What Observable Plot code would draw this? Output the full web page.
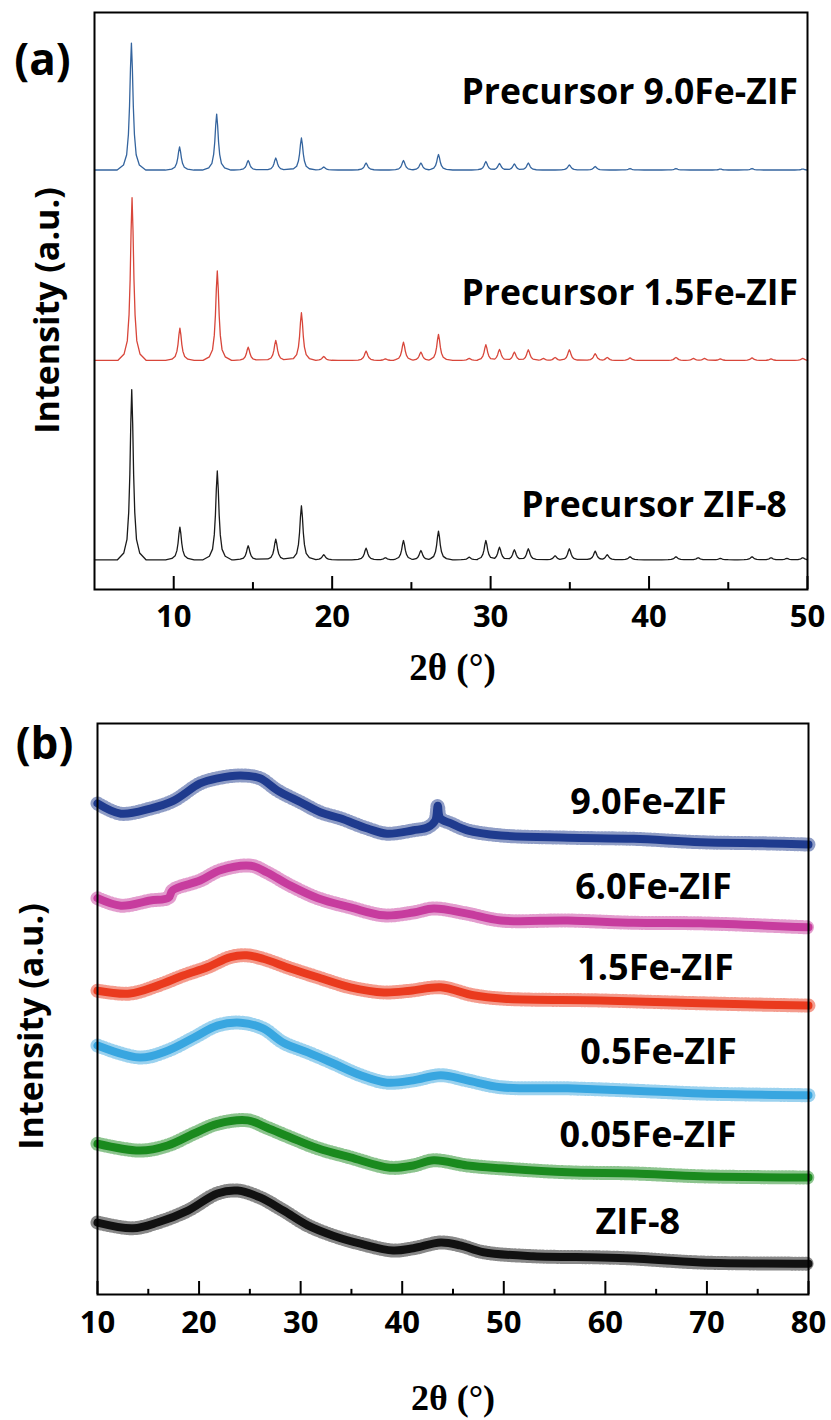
<!DOCTYPE html>
<html><head><meta charset="utf-8">
<script src="https://cdn.jsdelivr.net/npm/d3@7"></script>
<script src="https://cdn.jsdelivr.net/npm/@observablehq/plot@0.6"></script>
<style>
html,body{margin:0;padding:0;background:#fff;}
body{width:831px;height:1420px;position:relative;overflow:hidden;}
#pa,#pb{position:absolute;left:0;}
#pa{top:0;} #pb{top:700px;}
</style></head><body><div id="pa"></div><div id="pb"></div>
<script>
// ---------- Panel (a): precursor XRD patterns ----------
const precursorNames = ["Precursor ZIF-8", "Precursor 1.5Fe-ZIF", "Precursor 9.0Fe-ZIF"];
const precursorColors = ["#1a1a1a", "#d8463a", "#34649e"];
const precursorOffsets = [5.15, 39.7, 72.7];

const zif8PeakPos = [7.35,10.39,12.75,14.7,16.44,18.06,19.47,22.14,23.36,24.5,25.6,26.71,28.65,29.7,30.56,31.5,32.38,34.07,34.97,36.6,37.36,38.8,41.7,43.1,44.5,46.5,47.7,48.7,49.7];
const zif8PeakInt = [29.5,5.65,15.4,2.43,3.57,9.36,0.87,2.01,0.35,3.34,1.61,4.96,0.45,3.34,2.18,1.73,1.91,0.69,1.91,1.49,0.87,0.52,0.52,0.35,0.26,0.52,0.35,0.26,0.35];

const fe15PeakPos = [7.37,10.39,12.75,14.7,16.44,18.06,19.47,22.14,23.36,24.5,25.6,26.71,28.65,29.7,30.56,31.5,32.38,33.33,34.07,34.97,36.6,37.36,38.8,41.7,42.8,43.5,44.5,46.5,47.7,49.7];
const fe15PeakInt = [28.2,5.6,15.5,2.3,3.47,8.27,0.69,1.61,0.26,3.17,1.44,4.5,0.35,2.72,1.91,1.44,1.85,0.35,0.52,1.85,1.16,0.52,0.43,0.52,0.35,0.35,0.26,0.43,0.26,0.35];

const fe90PeakPos = [7.33,10.37,12.71,14.7,16.44,18.06,19.47,22.14,24.5,25.6,26.71,29.7,30.56,31.5,32.38,34.97,36.6,38.8,41.7,44.5,46.5,49.7];
const fe90PeakInt = [22.0,4.0,9.7,1.65,2.08,5.55,0.52,1.21,1.65,1.21,2.69,1.47,1.13,1.04,1.21,0.87,0.61,0.26,0.26,0.17,0.26,0.17];

// measured line shape of a single reflection (offset in degrees, fraction of peak height)
const profileDx = [-0.9,-0.5,-0.3,-0.19,-0.12,-0.06,0,0.06,0.12,0.19,0.3,0.5,0.9];
const profileFrac = [0,0.04,0.12,0.28,0.5,0.8,1,0.8,0.5,0.28,0.12,0.04,0];

const xTicksA = [10,20,30,40,50];
const xMinorA = [15,25,35,45];

// ---------- Panel (b): carbonised samples ----------
const sampleNames = ["ZIF-8","0.05Fe-ZIF","0.5Fe-ZIF","1.5Fe-ZIF","6.0Fe-ZIF","9.0Fe-ZIF"];
const sampleColors = ["#111111","#1a8a1e","#38a6e0","#ea3a1e","#c73c9e","#1f3b8e"];

const zif8X = [10,13.5,15.9,18.9,21.8,23.8,26,28.3,30.7,33.2,35.9,39.1,41.1,43.8,45.7,48,52.9,59.5,62.8,69.4,80];
const zif8Y = [12.6,11.6,12.6,14.7,17.7,18.2,17.0,14.7,12.1,10.3,8.9,7.7,8.1,9.1,8.6,7.4,6.7,6.5,6.3,5.6,5.4];

const fe005X = [10,14.2,16.9,19.5,21.8,24.8,26.7,29,31.7,34.9,38.8,41.1,43.1,46.4,49.7,56.3,62.8,69.4,80];
const fe005Y = [26.4,25.2,26.1,28.2,29.9,30.5,29.2,27.5,25.6,24.0,22.2,22.6,23.5,22.6,22.1,21.4,21.2,20.7,20.5];

const fe05X = [10,14.2,16.9,19.5,21.8,24.1,26.3,28.3,30.7,33.2,35.9,38.5,41.1,43.8,46.4,49.7,56.3,62.8,69.4,80];
const fe05Y = [43.6,41.5,42.7,45.0,47.1,47.6,46.6,44.1,42.4,40.5,38.4,37.1,37.5,38.4,37.5,36.3,36.1,35.7,35.2,34.9];

const fe15X = [10,13.2,15.9,18.5,20.8,23.1,24.7,26.3,29,31.6,34.9,38.2,40.8,43.8,47,50,59.5,69.4,80];
const fe15Y = [53.2,52.7,54.1,55.9,57.3,59.1,59.4,58.8,57.1,55.6,53.8,52.9,53.2,53.8,52.4,51.8,51.5,51.0,50.6];

const fe60X = [10,12.3,15.2,17.0,17.4,20.1,22.1,25.1,26.7,29,31.7,34.9,38.2,41.1,43.1,46.4,49.7,56.3,62.8,69.4,80];
const fe60Y = [69.4,68.1,69.0,69.5,70.8,72.5,74.3,75.1,73.9,71.6,69.4,67.8,66.4,66.9,67.6,66.7,65.5,65.5,65.1,65.0,64.3];

const fe90X = [10,12.3,15.2,17.5,20.1,21.8,24.1,26,27.7,30,32,33.9,36.6,38.5,41.1,42.5,43.25,43.5,43.75,44.8,46.4,49.7,56.3,62.8,69.4,76,80];
const fe90Y = [86.0,84.2,85.1,86.5,89.5,90.4,90.9,90.4,88.3,86.2,84.4,83.4,81.6,80.7,81.3,81.8,83.0,85.6,83.4,82.5,81.3,80.4,80.0,79.8,79.2,79.0,78.8];

const xTicksB = [10,20,30,40,50,60,70,80];
const xMinorB = [15,25,35,45,55,65,75];

// ---------- build tables ----------
function patternRows(name, offset, pos, inten, xmin, xmax) {
  const rows = [{s: name, x: xmin, y: offset}];
  for (let i = 0; i < pos.length; i++) {
    const lo = i === 0 ? xmin : (pos[i - 1] + pos[i]) / 2;
    const hi = i === pos.length - 1 ? xmax : (pos[i] + pos[i + 1]) / 2;
    for (let j = 0; j < profileDx.length; j++) {
      const x = pos[i] + profileDx[j];
      if (x > lo && x < hi) rows.push({s: name, x, y: offset + inten[i] * profileFrac[j]});
    }
  }
  rows.push({s: name, x: xmax, y: offset});
  return rows;
}
const dataA = [
  ...patternRows(precursorNames[0], precursorOffsets[0], zif8PeakPos, zif8PeakInt, 5, 50),
  ...patternRows(precursorNames[1], precursorOffsets[1], fe15PeakPos, fe15PeakInt, 5, 50),
  ...patternRows(precursorNames[2], precursorOffsets[2], fe90PeakPos, fe90PeakInt, 5, 50)
];

const seriesB = [[zif8X, zif8Y],[fe005X, fe005Y],[fe05X, fe05Y],[fe15X, fe15Y],[fe60X, fe60Y],[fe90X, fe90Y]];
const dataB = seriesB.flatMap(([xs, ys], k) => xs.map((x, i) => ({s: sampleNames[k], x, y: ys[i]})));

const FONT = "'Open Sans', Lato, sans-serif";
const labelA = [
  {t: precursorNames[2], x: 49.4, y: 86.1},
  {t: precursorNames[1], x: 49.4, y: 51.3},
  {t: precursorNames[0], x: 48.7, y: 14.6}
];
const labelB = [
  {t: sampleNames[5], x: 64.25, y: 86.2},
  {t: sampleNames[4], x: 64.74, y: 71.3},
  {t: sampleNames[3], x: 64.94, y: 57.1},
  {t: sampleNames[2], x: 65.23, y: 42.4},
  {t: sampleNames[1], x: 64.2, y: 27.8},
  {t: sampleNames[0], x: 63.2, y: 12.6}
];

const plotA = Plot.plot({
  width: 831, height: 700,
  marginLeft: 94, marginRight: 24, marginTop: 12, marginBottom: 111,
  style: {fontFamily: FONT, background: "#fff"},
  x: {domain: [5, 50], axis: null},
  y: {domain: [0, 100], axis: null},
  color: {domain: precursorNames, range: precursorColors},
  marks: [
    Plot.line(dataA, {x: "x", y: "y", z: "s", stroke: "s", strokeWidth: 1.3}),
    Plot.ruleX(xTicksA, {x: d => d, y1: 0, y2: 2.25, stroke: "#000", strokeWidth: 2}),
    Plot.ruleX(xMinorA, {x: d => d, y1: 0, y2: 1.2, stroke: "#000", strokeWidth: 2}),
    Plot.frame({stroke: "#000", strokeWidth: 2}),
    Plot.text(xTicksA, {x: d => d, text: d => String(d), frameAnchor: "bottom", dy: 28, lineAnchor: "middle", fontSize: 31, fontWeight: "bold", fill: "#000"}),
    Plot.text(labelA, {x: "x", y: "y", text: "t", textAnchor: "end", lineAnchor: "middle", fontSize: 35.5, fontWeight: "bold", fill: "#000"}),
    Plot.text(["2θ (°)"], {frameAnchor: "bottom", textAnchor: "middle", dx: 1.5, dy: 79, lineAnchor: "middle", fontSize: 37, fontWeight: "bold", fontFamily: "'Liberation Serif', serif", fill: "#000"}),
    Plot.text(["Intensity (a.u.)"], {frameAnchor: "left", textAnchor: "middle", dx: -46.5, dy: 9.5, rotate: -90, lineAnchor: "middle", fontSize: 34, fontWeight: "bold", fill: "#000"}),
    Plot.text(["(a)"], {frameAnchor: "top-left", dx: -52, dy: 48, textAnchor: "middle", lineAnchor: "middle", fontSize: 44, fontWeight: "bold", fill: "#000"})
  ]
});
document.getElementById("pa").appendChild(plotA);

const plotB = Plot.plot({
  width: 831, height: 720,
  marginLeft: 97, marginRight: 23, marginTop: 23, marginBottom: 126,
  style: {fontFamily: FONT, background: "#fff"},
  x: {domain: [10, 80], axis: null},
  y: {domain: [0, 100], axis: null},
  color: {domain: sampleNames, range: sampleColors},
  marks: [
    Plot.line(dataB, {x: "x", y: "y", z: "s", stroke: "s", strokeWidth: 8, curve: "catmull-rom", strokeLinejoin: "round"}),
    Plot.line(dataB, {x: "x", y: "y", z: "s", stroke: "s", strokeWidth: 14, curve: "catmull-rom", strokeDasharray: "1 2.5", strokeOpacity: 0.5}),
    Plot.ruleX(xTicksB, {x: d => d, y1: 0, y2: 2.28, stroke: "#000", strokeWidth: 2}),
    Plot.ruleX(xMinorB, {x: d => d, y1: 0, y2: 0.9, stroke: "#000", strokeWidth: 2}),
    Plot.frame({stroke: "#000", strokeWidth: 2}),
    Plot.text(xTicksB, {x: d => d, text: d => String(d), frameAnchor: "bottom", dy: 29, lineAnchor: "middle", fontSize: 31, fontWeight: "bold", fill: "#000"}),
    Plot.text(labelB, {x: "x", y: "y", text: "t", textAnchor: "middle", lineAnchor: "middle", fontSize: 36, fontWeight: "bold", fill: "#000"}),
    Plot.text(["2θ (°)"], {frameAnchor: "bottom", textAnchor: "middle", dx: 0, dy: 104, lineAnchor: "middle", fontSize: 36, fontWeight: "bold", fontFamily: "'Liberation Serif', serif", fill: "#000"}),
    Plot.text(["Intensity (a.u.)"], {frameAnchor: "left", textAnchor: "middle", dx: -65, dy: 17.5, rotate: -90, lineAnchor: "middle", fontSize: 34, fontWeight: "bold", fill: "#000"}),
    Plot.text(["(b)"], {frameAnchor: "top-left", dx: -53, dy: 21, textAnchor: "middle", lineAnchor: "middle", fontSize: 44, fontWeight: "bold", fill: "#000"})
  ]
});
document.getElementById("pb").appendChild(plotB);
</script>
</body></html>
